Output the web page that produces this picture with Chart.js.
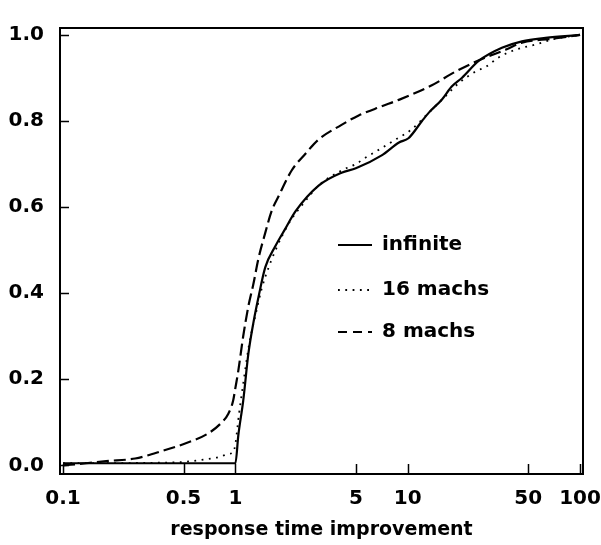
<!DOCTYPE html>
<html>
<head>
<meta charset="utf-8">
<script src="https://cdn.jsdelivr.net/npm/chart.js@4.4.0/dist/chart.umd.min.js"></script>
<style>
  html, body { margin: 0; padding: 0; background: #fff; }
  #wrap { width: 601px; height: 545px; }
</style>
</head>
<body>
<div id="wrap"><canvas id="cdf"></canvas></div>
<script>
// tick labels
const xTicks = [0.1, 0.5, 1, 5, 10, 50, 100];
const yTicks = [0, 0.2, 0.4, 0.6, 0.8, 1.0];

// series: [improvement, fraction]
const infinite = [
  [0.1, 0.005], [1.0, 0.005], [1.04, 0.07], [1.11, 0.15], [1.19, 0.26], [1.27, 0.33],
  [1.36, 0.39], [1.49, 0.46], [1.71, 0.51], [1.95, 0.55], [2.23, 0.59], [3.04, 0.65],
  [4.13, 0.68], [5.0, 0.69], [7.06, 0.72], [8.9, 0.75], [10.1, 0.76], [12.1, 0.80],
  [13.3, 0.82], [15.8, 0.85], [18, 0.88], [20.6, 0.90], [25.9, 0.94], [35.2, 0.97],
  [46, 0.985], [63, 0.993], [100, 1.0]
];
const machs16 = [
  [0.1, 0.005], [0.33, 0.006], [0.5, 0.008], [0.59, 0.011], [0.72, 0.016], [0.82, 0.02],
  [0.91, 0.027], [0.97, 0.03], [1.0, 0.05], [1.05, 0.12], [1.12, 0.2], [1.2, 0.28],
  [1.31, 0.35], [1.42, 0.41], [1.56, 0.46], [1.71, 0.50], [1.85, 0.53], [2.1, 0.57],
  [2.5, 0.61], [3.04, 0.65], [4.13, 0.685], [5.0, 0.70], [5.7, 0.715], [7.06, 0.737],
  [8.5, 0.757], [10.5, 0.78], [13.3, 0.82], [16.6, 0.858], [19.8, 0.888], [24.8, 0.915],
  [28.4, 0.926], [33.8, 0.948], [42.5, 0.966], [55.5, 0.978], [70, 0.99], [100, 1.0]
];
const machs8 = [
  [0.1, 0.0], [0.136, 0.005], [0.178, 0.01], [0.262, 0.016], [0.38, 0.034], [0.52, 0.052],
  [0.68, 0.072], [0.82, 0.097], [0.91, 0.12], [0.97, 0.15], [1.0, 0.18], [1.04, 0.22],
  [1.11, 0.30], [1.19, 0.37], [1.27, 0.42], [1.36, 0.48], [1.49, 0.54], [1.62, 0.59],
  [1.78, 0.625], [2.12, 0.685], [2.55, 0.724], [3.04, 0.757], [4.13, 0.791], [5.19, 0.813],
  [7.06, 0.834], [8.87, 0.849], [13.8, 0.883], [19, 0.915], [26.9, 0.944], [37.2, 0.966],
  [46, 0.982], [68.7, 0.991], [100, 1.0]
];

const FONT = "'DejaVu Sans', sans-serif";

function pts(arr) {
  return arr.map(function(p) { return { x: p[0], y: p[1] }; });
}

// frame, inward ticks and the legend inside the plot
const framePlugin = {
  id: 'frame',
  afterDraw: function(chart) {
    const ctx = chart.ctx;
    const a = chart.chartArea;
    const xs = chart.scales.x, ys = chart.scales.y;
    ctx.save();
    ctx.strokeStyle = '#000';
    ctx.lineWidth = 2;
    ctx.strokeRect(a.left, a.top, a.right - a.left, a.bottom - a.top);
    ctx.lineWidth = 1.5;
    ctx.beginPath();
    xTicks.forEach(function(v) {
      const px = Math.round(xs.getPixelForValue(v)) + 0.5;
      ctx.moveTo(px, a.bottom); ctx.lineTo(px, a.bottom - 10);
    });
    yTicks.forEach(function(v) {
      const py = Math.round(ys.getPixelForValue(v)) + 0.5;
      ctx.moveTo(a.left, py); ctx.lineTo(a.left + 9, py);
    });
    ctx.stroke();

    // legend
    ctx.font = 'bold 20px ' + FONT;
    ctx.fillStyle = '#000';
    ctx.textBaseline = 'middle';
    const rows = [245, 290, 332];
    chart.data.datasets.forEach(function(ds, i) {
      const y = rows[i];
      ctx.beginPath();
      ctx.lineWidth = ds.borderWidth;
      ctx.setLineDash(ds.legendDash);
      ctx.moveTo(338, y); ctx.lineTo(372, y);
      ctx.stroke();
      ctx.setLineDash([]);
      ctx.fillText(ds.label, 382, y);
    });
    ctx.restore();
  }
};

const ctx = document.getElementById('cdf').getContext('2d');
const chart = new Chart(ctx, {
  type: 'line',
  data: {
    datasets: [
      { label: 'infinite', data: pts(infinite), borderColor: '#000', borderWidth: 2.2,
        borderDash: [], legendDash: [] },
      { label: '16 machs', data: pts(machs16), borderColor: '#000', borderWidth: 1.8,
        borderDash: [1.8, 5.5], legendDash: [1.8, 5.5] },
      { label: '8 machs', data: pts(machs8), borderColor: '#000', borderWidth: 2.2,
        borderDash: [12, 5], legendDash: [9, 6] }
    ]
  },
  options: {
    responsive: true,
    maintainAspectRatio: false,
    animation: false,
    layout: { padding: { top: 13, right: 18, left: 0, bottom: 0 } },
    elements: {
      point: { radius: 0 },
      line: { tension: 0, cubicInterpolationMode: 'monotone', fill: false }
    },
    plugins: {
      legend: { display: false },
      tooltip: { enabled: false }
    },
    scales: {
      x: {
        type: 'logarithmic',
        min: 0.096,
        max: 104,
        afterBuildTicks: function(s) { s.ticks = xTicks.map(function(v) { return { value: v }; }); },
        afterFit: function(s) { s.height = 71; s.paddingLeft = 0; s.paddingRight = 0; },
        grid: { display: false, drawTicks: false },
        border: { display: false },
        ticks: {
          color: '#000', padding: 13, maxRotation: 0, autoSkip: false,
          font: { family: FONT, size: 20, weight: 'bold' },
          callback: function(v) { return String(v); }
        },
        title: {
          display: true, text: 'response time improvement', color: '#000',
          font: { family: FONT, size: 19, weight: 'bold' }, padding: { top: 0, bottom: 4 }
        }
      },
      y: {
        min: -0.02,
        max: 1.016,
        afterBuildTicks: function(s) { s.ticks = yTicks.map(function(v) { return { value: v }; }); },
        afterFit: function(s) { s.width = 60; },
        grid: { display: false, drawTicks: false },
        border: { display: false },
        ticks: {
          color: '#000', padding: 16, autoSkip: false,
          font: { family: FONT, size: 20, weight: 'bold' },
          callback: function(v) { return Number(v).toFixed(1); }
        }
      }
    }
  },
  plugins: [framePlugin]
});
</script>
</body>
</html>
